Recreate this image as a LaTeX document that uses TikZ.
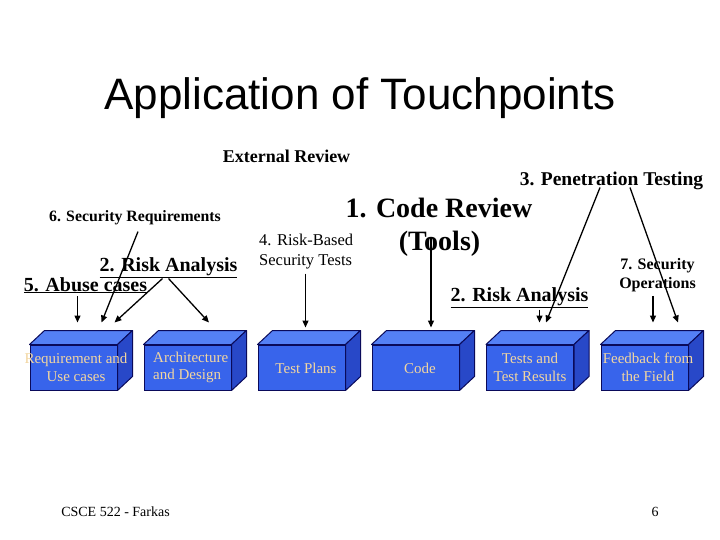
\documentclass[tikz,border=0pt]{standalone}
\usepackage{fontspec}
\setmainfont{Liberation Serif}
\newfontfamily\titlefont{Liberation Sans}
\usetikzlibrary{arrows.meta,calc}
\definecolor{boxfront}{RGB}{56,100,235}
\definecolor{boxtop}{RGB}{84,128,245}
\definecolor{boxside}{RGB}{40,72,200}
\definecolor{boxline}{RGB}{10,10,90}
\definecolor{boxtxt}{RGB}{242,214,160}
\tikzset{
  front/.style={draw=boxline, line width=1pt, fill=boxfront, minimum width=87pt, minimum height=45pt, inner sep=0pt},
  topface/.style={draw=boxline, line width=1pt, fill=boxtop, line join=round},
  sideface/.style={draw=boxline, line width=1pt, fill=boxside, line join=round},
  boxtext/.style={text=boxtxt, font=\fontsize{15}{17.5}\selectfont, align=center, inner sep=0pt},
  big/.style={inner sep=0pt, font=\fontsize{20}{24}\selectfont\bfseries},
  arr/.style={-{Triangle[length=7pt,width=6pt]}, line width=1.3pt, black},
}
\begin{document}
\begin{tikzpicture}[x=1pt,y=-1pt]
\useasboundingbox (0,0) rectangle (720,540);
\fill[white] (0,0) rectangle (720,540);
% title
\node[anchor=base, inner sep=0pt, font=\fontsize{44}{50}\selectfont\titlefont] (title) at (360,110) {Application of Touchpoints};
% boxes
\node[front] (b1) at (73.5,367.5) {};
\node[front] (b2) at (187.5,367.5) {};
\node[front] (b3) at (301.5,367.5) {};
\node[front] (b4) at (415.5,367.5) {};
\node[front] (b5) at (530,367.5) {};
\node[front] (b6) at (644.5,367.5) {};
\foreach \b in {b1,b2,b3,b4,b5,b6}{
  \draw[topface] (\b.north west) -- ++(15,-14) -- ($(\b.north east)+(15,-14)$) -- (\b.north east) -- cycle;
  \draw[sideface] (\b.north east) -- ++(15,-14) -- ($(\b.south east)+(15,-14)$) -- (\b.south east) -- cycle;
}
\node[boxtext] (t1) at (76,367.5) {Requirement and\\Use cases};
\node[boxtext, align=left, anchor=west] (t2) at (153,367.5) {Architecture\\and Design};
\node[boxtext] (t3) at (306,368) {Test Plans};
\node[boxtext] (t4) at (420,368) {Code};
\node[boxtext] (t5) at (530,367.5) {Tests and\\Test Results};
\node[boxtext] (t6) at (648,367.5) {Feedback from\\the Field};
% labels
\node[anchor=base, inner sep=0pt, font=\fontsize{18}{21}\selectfont\bfseries] (ext) at (286.5,163) {External Review};
\node[anchor=base, inner sep=0pt, font=\fontsize{19.5}{22}\selectfont\bfseries] (pen) at (611.5,186) {3. Penetration Testing};
\node[anchor=base, inner sep=0pt, font=\fontsize{15.8}{19}\selectfont\bfseries] (sec) at (135,222) {6. Security Requirements};
\node[anchor=base, inner sep=0pt, font=\fontsize{28}{32}\selectfont\bfseries] (code) at (439,218) {1. Code Review};
\node[anchor=base, inner sep=0pt, font=\fontsize{28}{32}\selectfont\bfseries] (tools) at (439.5,250) {(Tools)};
\node[anchor=west, inner sep=0pt, font=\fontsize{16.5}{20}\selectfont, align=left] (rbt) at (259,252) {4. Risk-Based\\Security Tests};
\node[anchor=base, big] (ra1) at (168.5,271) {\underline{2. Risk Analysis}};
\node[anchor=base, big] (abuse) at (85.5,291) {\underline{5. Abuse cases}};
\node[anchor=base, big] (ra2) at (519.5,301) {\underline{2. Risk Analysis}};
\node[inner sep=0pt, font=\fontsize{16}{19}\selectfont\bfseries, align=center] (ops) at (657.5,275) {7. Security\\Operations};
\node[anchor=base, inner sep=0pt, font=\fontsize{14}{17}\selectfont] (foot) at (115.5,516) {CSCE 522 - Farkas};
\node[anchor=base, inner sep=0pt, font=\fontsize{14}{17}\selectfont] (num) at (655,516) {6};
% arrow targets
\coordinate (a1) at ($(b1.north west)+(48,-22)$);
\coordinate (a2) at ($(b1.north west)+(72,-22)$);
\coordinate (a3) at ($(b1.north west)+(85,-22)$);
\coordinate (a4) at ($(b2.north west)+(65.5,-22)$);
\coordinate (a5) at ($(b3.north west)+(48,-17)$);
\coordinate (a6) at ($(b4.north west)+(59.5,-17)$);
\coordinate (a7) at ($(b5.north west)+(53.5,-22)$);
\coordinate (a8) at ($(b5.north west)+(60,-22)$);
\coordinate (a9) at ($(b6.north west)+(77.5,-22)$);
\coordinate (a10) at ($(b6.north west)+(52.5,-22)$);
% arrows
\draw[arr] (abuse.south -| a1) ++(0,3) -- (a1);
\draw[arr] ($(sec.south)+(3,6)$) -- (a2);
\draw[arr] ($(ra1.south)+(-6,1)$) -- (a3);
\draw[arr] ($(ra1.south)+(0,1)$) -- (a4);
\draw[arr] (a5 |- rbt.south) ++(0,4) -- (a5);
\draw[arr] (a6 |- tools.base) ++(0,-12) -- (a6);
\draw[arr] (a7 |- ra2.south) ++(0,2) -- (a7);
\draw[arr] ($(pen.south)+(-11.5,-3)$) -- (a8);
\draw[arr] ($(pen.south)+(18.5,-3)$) -- (a9);
\draw[arr] (a10 |- ops.south) ++(0,4) -- (a10);
\end{tikzpicture}
\end{document}
